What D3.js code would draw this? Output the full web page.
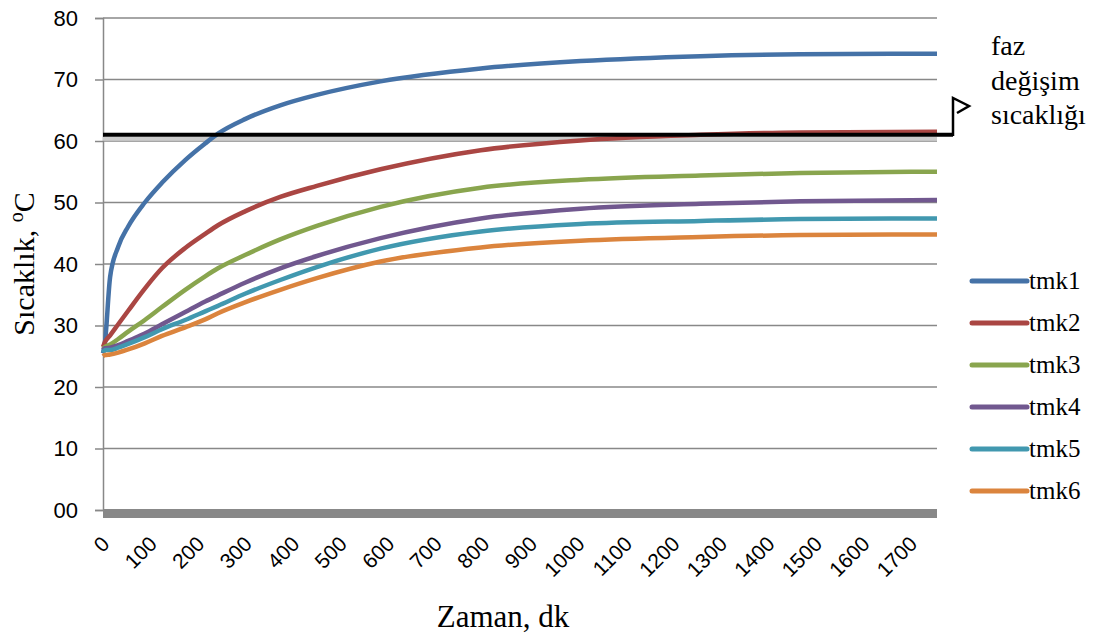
<!DOCTYPE html>
<html>
<head>
<meta charset="utf-8">
<style>
  body { margin: 0; background: #fff; }
  svg { display: block; }
  .tick text { font-family: 'Liberation Sans', Arial, sans-serif; fill: #000; }
</style>
</head>
<body>
<svg width="1109" height="637"></svg>
<script src="https://d3js.org/d3.v7.min.js"></script>
<script>
// minutes
let times = [0, 4, 15, 32, 53, 88, 124, 173, 215, 242, 300, 373, 450, 584, 795, 1005, 1257, 1467, 1755]
let tmk1 = [25.5, 27.2, 37.9, 42.8, 46.1, 50, 53.2, 56.9, 59.6, 61.2, 63.6, 65.8, 67.5, 69.7, 71.8, 73, 73.8, 74.1, 74.2]
let tmk2 = [26.5, 27.3, 28.4, 30.2, 32.4, 36, 39.3, 42.6, 44.9, 46.3, 48.6, 50.9, 52.7, 55.4, 58.5, 60.1, 61, 61.4, 61.5]
let tmk3 = [26.2, 26.5, 26.9, 27.8, 29, 30.9, 33, 35.8, 38, 39.3, 41.5, 44, 46.2, 49.3, 52.4, 53.7, 54.4, 54.8, 55]
let tmk4 = [26, 26.3, 26.4, 26.8, 27.5, 28.7, 30.2, 32.2, 33.9, 34.9, 37, 39.3, 41.3, 44.2, 47.4, 49, 49.8, 50.2, 50.4]
let tmk5 = [25.6, 26, 26, 26.4, 27, 28.1, 29.4, 30.9, 32.3, 33.2, 35.2, 37.4, 39.5, 42.5, 45.3, 46.5, 47, 47.3, 47.4]
let tmk6 = [25, 25.2, 25.3, 25.6, 26.1, 27.1, 28.3, 29.7, 31, 32, 33.8, 35.8, 37.7, 40.4, 42.7, 43.8, 44.4, 44.7, 44.8]
let seriesNames = ["tmk1", "tmk2", "tmk3", "tmk4", "tmk5", "tmk6"]
let seriesValues = [tmk1, tmk2, tmk3, tmk4, tmk5, tmk6]
let colors = ["#4572A7", "#AA4643", "#89A54E", "#71588F", "#4198AF", "#DB843D"]
let yTicks = [0, 10, 20, 30, 40, 50, 60, 70, 80]
let xTicks = d3.range(0, 1800, 100)
let phaseTemp = 61

let serif = "'Liberation Serif', 'Times New Roman', 'DejaVu Serif', serif"
let svg = d3.select("svg")
let margin = { left: 103, right: 172, top: 18, bottom: 127 }
let width = 1109, height = 637

let x = d3.scaleLinear().domain([0, 1755]).range([margin.left, width - margin.right])
let y = d3.scaleLinear().domain([0, 80]).range([height - margin.bottom, margin.top])

// y axis + grid
let yAxis = svg.append("g")
    .attr("transform", `translate(${margin.left},0)`)
    .call(d3.axisLeft(y).tickValues(yTicks).tickSize(8).tickPadding(17)
        .tickFormat(d => d == 0 ? "00" : d))
yAxis.select(".domain").attr("stroke", "#888").attr("stroke-width", 1.5)
yAxis.selectAll(".tick line").attr("stroke", "#888").attr("stroke-width", 1.5)
yAxis.selectAll(".tick text").style("font-size", "22px")

svg.append("g").selectAll("line")
    .data(yTicks.filter(d => d > 0))
    .join("line")
    .attr("x1", margin.left).attr("x2", x(1755))
    .attr("y1", d => y(d)).attr("y2", d => y(d))
    .attr("stroke", "#888").attr("stroke-width", 1.5)

// thick floor bar
svg.append("rect")
    .attr("x", margin.left).attr("y", y(0) - 1)
    .attr("width", x(1755) - margin.left).attr("height", 9)
    .attr("fill", "#888")

// x axis labels
let xAxis = svg.append("g")
    .attr("transform", `translate(0,${y(0)})`)
    .call(d3.axisBottom(x).tickValues(xTicks).tickSize(0).tickPadding(0)
        .tickFormat(d3.format("d")))
xAxis.select(".domain").remove()
xAxis.selectAll(".tick text")
    .attr("text-anchor", "end")
    .attr("transform", "translate(2,30) rotate(-45)")
    .attr("dy", "0.35em")
    .style("font-size", "21px")

// phase change line
svg.append("line")
    .attr("x1", x(0)).attr("x2", x(1755))
    .attr("y1", y(phaseTemp) + 4).attr("y2", y(phaseTemp) + 4)
    .attr("stroke", "#ccc").attr("stroke-width", 4)

// series
let line = d3.line()
    .x((d, i) => x(times[i]))
    .y(d => y(d))
    .curve(d3.curveMonotoneX)

svg.append("g").selectAll("path")
    .data(seriesValues)
    .join("path")
    .attr("d", line)
    .attr("fill", "none")
    .attr("stroke", (d, i) => colors[i])
    .attr("stroke-width", 4.5)
    .attr("stroke-linejoin", "round")

svg.append("path")
    .attr("d", `M${x(0)},${y(phaseTemp)} H953 V98 L969,106 L957,113`)
    .attr("fill", "none")
    .attr("stroke", "#000")
    .attr("stroke-width", 2.5)
svg.append("line")
    .attr("x1", x(0)).attr("x2", 953)
    .attr("y1", y(phaseTemp)).attr("y2", y(phaseTemp))
    .attr("stroke", "#000").attr("stroke-width", 4)

// annotation
let note = svg.append("text")
    .attr("font-family", serif).style("font-size", "28px")
note.selectAll("tspan")
    .data(["faz", "değişim", "sıcaklığı"])
    .join("tspan")
    .attr("x", 991)
    .attr("y", (d, i) => 55 + i * 34.5)
    .text(d => d)

// legend
let legend = svg.append("g").selectAll("g")
    .data(seriesNames)
    .join("g")
    .attr("transform", (d, i) => `translate(972,${281 + i * 42})`)
legend.append("line")
    .attr("x1", 0).attr("x2", 55)
    .attr("stroke", (d, i) => colors[i])
    .attr("stroke-width", 5)
    .attr("stroke-linecap", "round")
legend.append("text")
    .attr("font-family", serif)
    .attr("x", 57).attr("dy", "0.33em")
    .style("font-size", "25px")
    .text(d => d)

// axis titles
let yTitle = svg.append("text")
    .attr("font-family", serif)
    .attr("transform", "translate(34,264) rotate(-90)")
    .attr("text-anchor", "middle")
    .style("font-size", "30px")
yTitle.append("tspan").text("Sıcaklık, ")
yTitle.append("tspan").attr("dy", -11).style("font-size", "20px").text("o")
yTitle.append("tspan").attr("dy", 11).text("C")

svg.append("text")
    .attr("font-family", serif)
    .attr("x", 503).attr("y", 627)
    .attr("text-anchor", "middle")
    .style("font-size", "31px")
    .text("Zaman, dk")
</script>
</body>
</html>
